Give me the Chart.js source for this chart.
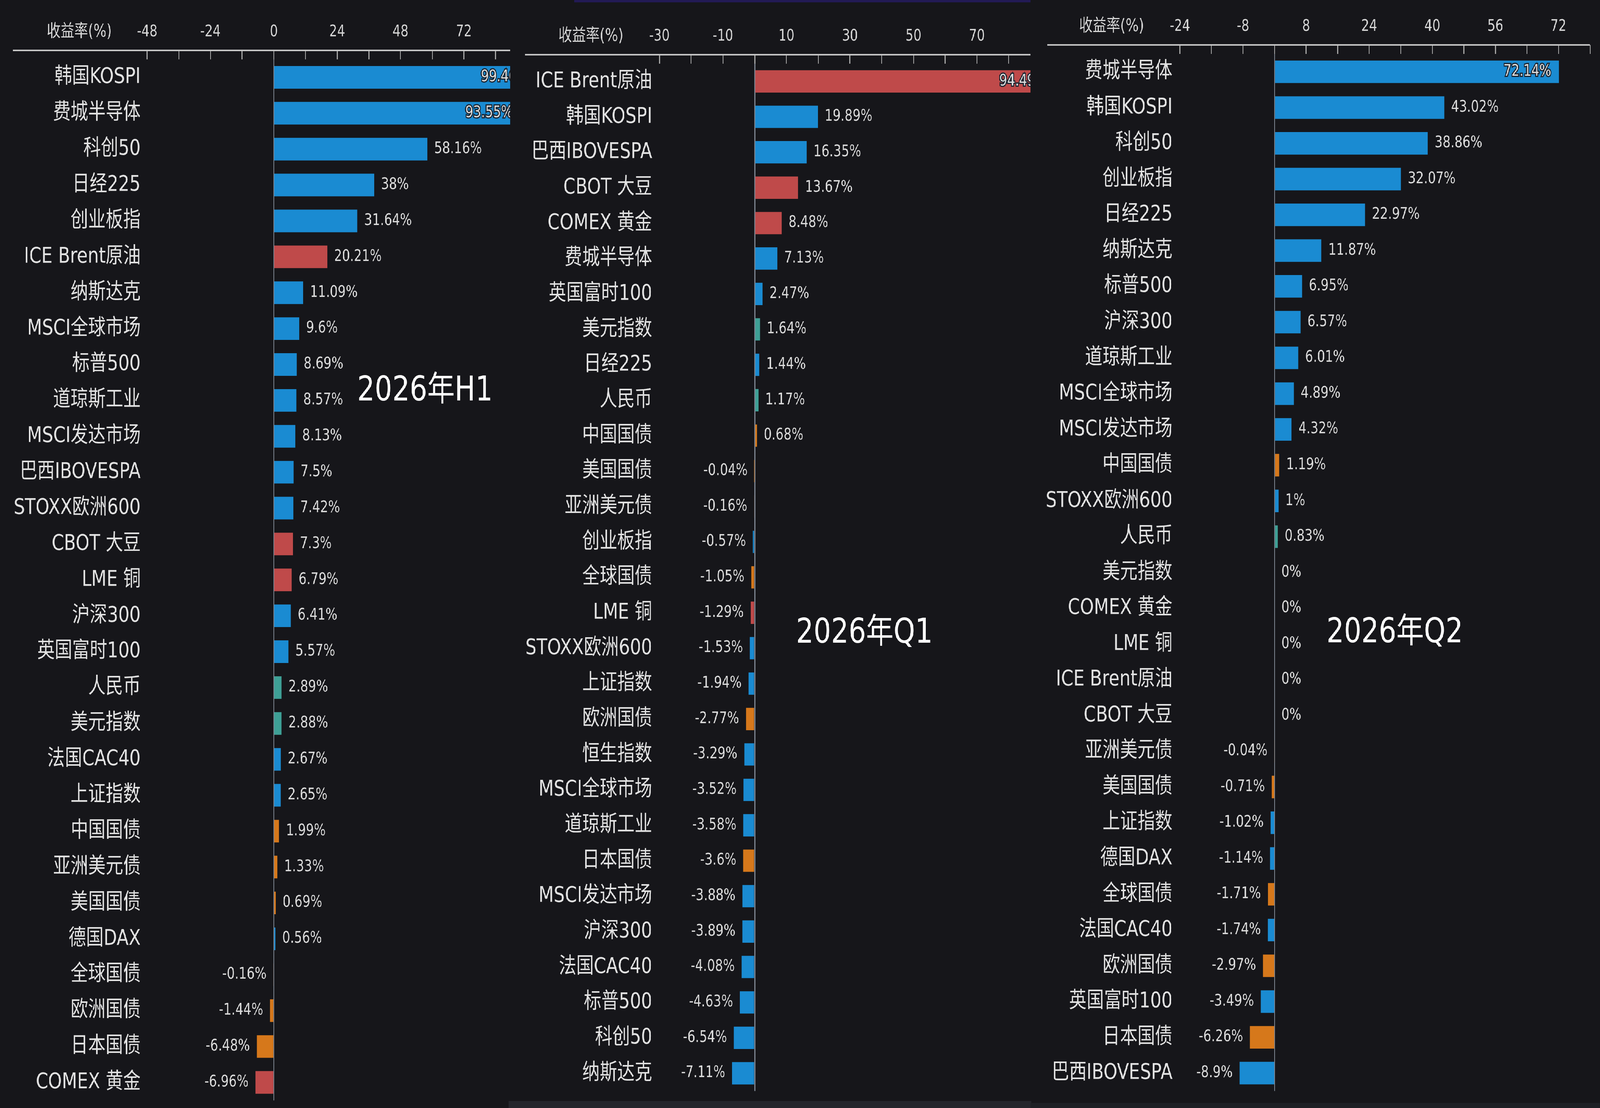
<!DOCTYPE html>
<html lang="zh-CN">
<head>
<meta charset="UTF-8">
<title>2026年 各类资产收益率</title>
<script src="https://cdn.jsdelivr.net/npm/chart.js"></script>
<style>
  html, body { margin: 0; padding: 0; overflow: hidden; background: #16161a; }
  #stage { position: absolute; left: 0; top: 0; width: 5120px; height: 2836px; transform-origin: 0 0; background: #16161a; }
  .panel { position: absolute; top: 0; }
  .strip { position: absolute; }
</style>
</head>
<body>

<div id="stage">
  <div class="panel" style="left:0;width:1633px;height:2860px"><canvas id="chartH1"></canvas></div>
  <div class="panel" style="left:1660px;width:1638px;height:2836px"><canvas id="chartQ1"></canvas></div>
  <div class="panel" style="left:3330px;width:1790px;height:2836px"><canvas id="chartQ2"></canvas></div>
  <div class="strip" style="left:1838px;top:0;width:1460px;height:6px;background:#221a55"></div>
  <div class="strip" style="left:1628px;top:2818px;width:1672px;height:18px;background:#24262c"></div>
  <div class="strip" style="left:3298px;top:2823px;width:1822px;height:13px;background:#1e2025"></div>
</div>

<script>
// 2026年H1
const h1Names = ['韩国KOSPI', '费城半导体', '科创50', '日经225', '创业板指', 'ICE Brent原油', '纳斯达克',
  'MSCI全球市场', '标普500', '道琼斯工业', 'MSCI发达市场', '巴西IBOVESPA', 'STOXX欧洲600', 'CBOT 大豆',
  'LME 铜', '沪深300', '英国富时100', '人民币', '美元指数', '法国CAC40', '上证指数', '中国国债',
  '亚洲美元债', '美国国债', '德国DAX', '全球国债', '欧洲国债', '日本国债', 'COMEX 黄金'];
const h1Values = [99.46, 93.55, 58.16, 38, 31.64, 20.21, 11.09, 9.6, 8.69, 8.57, 8.13, 7.5, 7.42, 7.3,
  6.79, 6.41, 5.57, 2.89, 2.88, 2.67, 2.65, 1.99, 1.33, 0.69, 0.56, -0.16, -1.44, -6.48, -6.96];
const h1Ticks = [-48, -36, -24, -12, 0, 12, 24, 36, 48, 60, 72, 84];
const h1TickLabels = [-48, -24, 0, 24, 48, 72];

// 2026年Q1
const q1Names = ['ICE Brent原油', '韩国KOSPI', '巴西IBOVESPA', 'CBOT 大豆', 'COMEX 黄金', '费城半导体',
  '英国富时100', '美元指数', '日经225', '人民币', '中国国债', '美国国债', '亚洲美元债', '创业板指',
  '全球国债', 'LME 铜', 'STOXX欧洲600', '上证指数', '欧洲国债', '恒生指数', 'MSCI全球市场', '道琼斯工业',
  '日本国债', 'MSCI发达市场', '沪深300', '法国CAC40', '标普500', '科创50', '纳斯达克'];
const q1Values = [94.49, 19.89, 16.35, 13.67, 8.48, 7.13, 2.47, 1.64, 1.44, 1.17, 0.68, -0.04, -0.16,
  -0.57, -1.05, -1.29, -1.53, -1.94, -2.77, -3.29, -3.52, -3.58, -3.6, -3.88, -3.89, -4.08, -4.63, -6.54, -7.11];
const q1Ticks = [-30, -20, -10, 0, 10, 20, 30, 40, 50, 60, 70, 80];
const q1TickLabels = [-30, -10, 10, 30, 50, 70];

// 2026年Q2
const q2Names = ['费城半导体', '韩国KOSPI', '科创50', '创业板指', '日经225', '纳斯达克', '标普500', '沪深300',
  '道琼斯工业', 'MSCI全球市场', 'MSCI发达市场', '中国国债', 'STOXX欧洲600', '人民币', '美元指数', 'COMEX 黄金',
  'LME 铜', 'ICE Brent原油', 'CBOT 大豆', '亚洲美元债', '美国国债', '上证指数', '德国DAX', '全球国债',
  '法国CAC40', '欧洲国债', '英国富时100', '日本国债', '巴西IBOVESPA'];
const q2Values = [72.14, 43.02, 38.86, 32.07, 22.97, 11.87, 6.95, 6.57, 6.01, 4.89, 4.32, 1.19, 1, 0.83,
  0, 0, 0, 0, 0, -0.04, -0.71, -1.02, -1.14, -1.71, -1.74, -2.97, -3.49, -6.26, -8.9];
const q2Ticks = [-24, -16, -8, 0, 8, 16, 24, 32, 40, 48, 56, 64, 72, 80];
const q2TickLabels = [-24, -8, 8, 24, 40, 56, 72];

// asset classes -> bar colour
const commodityNames = ['ICE Brent原油', 'CBOT 大豆', 'LME 铜', 'COMEX 黄金'];
const fxNames = ['人民币', '美元指数'];
const bondNames = ['中国国债', '美国国债', '亚洲美元债', '全球国债', '欧洲国债', '日本国债'];

function barColor(name) {
  if (commodityNames.includes(name)) return '#bf4a4a';
  if (fxNames.includes(name)) return '#3ea096';
  if (bondNames.includes(name)) return '#d6781b';
  return '#1a8bd2';
}

// layout is drawn for a 5120x2836 page; stretch it onto whatever the window really is
const sx = window.innerWidth / 5120;
const sy = window.innerHeight / 2836;
document.getElementById('stage').style.transform = 'scale(' + sx + ',' + sy + ')';
document.body.style.width = window.innerWidth + 'px';
document.body.style.height = window.innerHeight + 'px';

const FONT = '"DejaVu Sans", "Noto Sans CJK SC", sans-serif';
const TICK_LEN = 23;

const decoPlugin = {
  id: 'deco',
  afterDatasetsDraw(chart) {
    const ctx = chart.ctx;
    const vals = chart.data.datasets[0].data;
    ctx.save();
    ctx.font = '40px ' + FONT;
    ctx.textBaseline = 'middle';
    chart.getDatasetMeta(0).data.forEach((bar, i) => {
      const v = vals[i];
      const txt = v + '%';
      const w = ctx.measureText(txt).width;
      ctx.fillStyle = '#dcdcdc';
      if (v < 0) {
        ctx.textAlign = 'right';
        ctx.fillText(txt, bar.x - 22, bar.y);
      } else if (bar.x + 22 + w < chart.width) {
        ctx.textAlign = 'left';
        ctx.fillText(txt, bar.x + 22, bar.y);
      } else {
        // no room outside: put it inside the end of the bar
        ctx.textAlign = 'right';
        ctx.lineWidth = 6;
        ctx.strokeStyle = '#1b2430';
        ctx.strokeText(txt, bar.x - 25, bar.y);
        ctx.fillText(txt, bar.x - 25, bar.y);
      }
    });
    ctx.restore();
  },
  afterDraw(chart, args, opts) {
    const ctx = chart.ctx;
    const area = chart.chartArea;
    const lineY = area.top - TICK_LEN;
    ctx.save();
    // axis line above the tick marks
    ctx.strokeStyle = '#c4c4c4';
    ctx.lineWidth = 4;
    ctx.beginPath();
    ctx.moveTo(opts.axisStart, lineY);
    ctx.lineTo(area.right, lineY);
    ctx.stroke();
    // axis unit
    ctx.fillStyle = '#d6d6d6';
    ctx.font = '44px ' + FONT;
    ctx.textAlign = 'right';
    ctx.textBaseline = 'middle';
    ctx.fillText('收益率(%)', opts.unitRight, lineY - 22 - 24);
    // period title
    ctx.fillStyle = '#ffffff';
    ctx.font = '88px ' + FONT;
    ctx.textAlign = 'center';
    ctx.fillText(opts.title, opts.titleX, opts.titleY);
    ctx.restore();
  }
};

function makePanel(id, names, values, ticks, tickLabels, p) {
  return new Chart(document.getElementById(id), {
    type: 'bar',
    data: {
      labels: names,
      datasets: [{
        data: values,
        backgroundColor: names.map(barColor),
        borderWidth: 0,
        categoryPercentage: 1,
        barPercentage: 0.63
      }]
    },
    plugins: [decoPlugin],
    options: {
      indexAxis: 'y',
      responsive: true,
      maintainAspectRatio: false,
      animation: false,
      layout: { padding: { top: 0, left: 0, right: p.padRight, bottom: p.padBottom } },
      plugins: {
        legend: { display: false },
        tooltip: { enabled: false },
        deco: { axisStart: p.axisStart, unitRight: p.unitRight, title: p.title, titleX: p.titleX, titleY: p.titleY }
      },
      scales: {
        x: {
          position: 'top',
          min: p.min,
          max: p.max,
          afterBuildTicks: s => { s.ticks = ticks.map(v => ({ value: v })); },
          afterFit: s => { s.height = p.chartTop; },
          ticks: {
            autoSkip: false,
            maxRotation: 0,
            padding: 22,
            color: '#d6d6d6',
            font: { size: 40, family: FONT },
            callback: v => tickLabels.includes(v) ? String(v) : ''
          },
          grid: {
            drawOnChartArea: true,
            drawTicks: true,
            tickLength: TICK_LEN,
            tickColor: '#a6a6a6',
            tickWidth: 3,
            lineWidth: 3,
            color: c => (c.tick && c.tick.value === 0) ? '#7c8490' : 'transparent'
          },
          border: { display: false }
        },
        y: {
          afterFit: s => { s.width = p.chartLeft; },
          ticks: {
            padding: 10,
            color: '#e2e2e2',
            font: { size: 56, family: FONT }
          },
          grid: { display: false, drawTicks: false },
          border: { display: false }
        }
      }
    }
  });
}

makePanel('chartH1', h1Names, h1Values, h1Ticks, h1TickLabels, {
  min: -49.3, max: 89.6, chartTop: 152, chartLeft: 460, padRight: 0, padBottom: 16.8,
  axisStart: 41, unitRight: 358, title: '2026年H1', titleX: 1360, titleY: 1002
});
makePanel('chartQ1', q1Names, q1Values, q1Ticks, q1TickLabels, {
  min: -31.3, max: 86.9, chartTop: 163, chartLeft: 437, padRight: 0, padBottom: 25.3,
  axisStart: 20, unitRight: 335, title: '2026年Q1', titleX: 1106, titleY: 1622
});
makePanel('chartQ2', q2Names, q2Values, q2Ticks, q2TickLabels, {
  min: -25.1, max: 80, chartTop: 138, chartLeft: 432, padRight: 32, padBottom: 24.2,
  axisStart: 21, unitRight: 331, title: '2026年Q2', titleX: 1133, titleY: 1621
});
</script>

</body>
</html>
